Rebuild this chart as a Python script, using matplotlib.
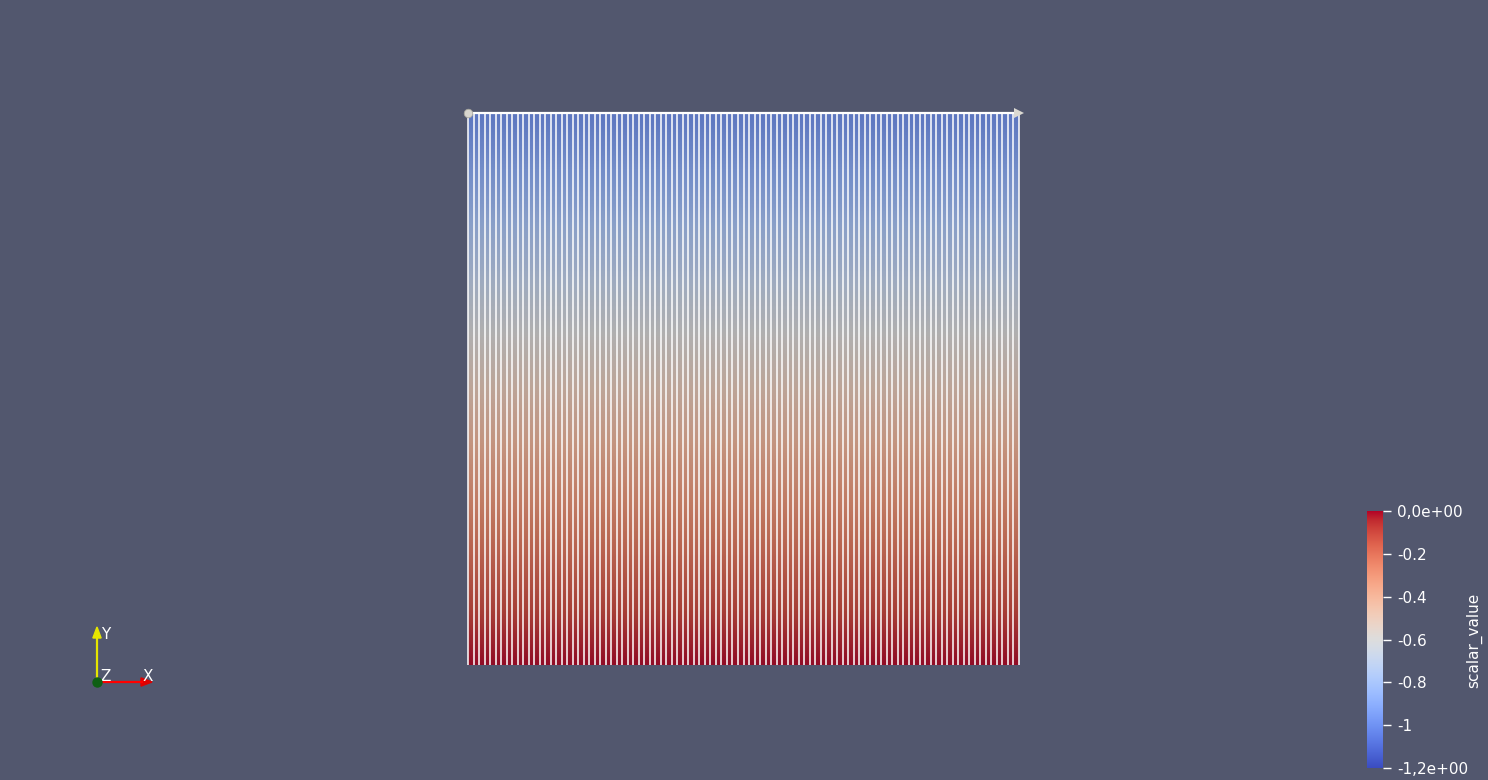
import numpy as np
import matplotlib
matplotlib.use("Agg")
import matplotlib.pyplot as plt
from matplotlib.colors import ListedColormap, Normalize
from matplotlib.colorbar import ColorbarBase

# ---------------- data ----------------
x_nodes = list(range(0, 101))                      # 100 columns -> 101 grid lines
y_nodes = [0.0, 0.1, 0.2, 0.3, 0.4, 0.5, 0.6, 0.7, 0.8, 0.9, 1.0]   # bottom -> top
scalar_rows = [0.0, -0.1, -0.2, -0.3, -0.4, -0.5, -0.6, -0.7, -0.8, -0.9, -1.0]
cbar_ticks = [-1.2, -1.0, -0.8, -0.6, -0.4, -0.2, 0.0]
cbar_ticklabels = ["-1,2e+00", "-1", "-0.8", "-0.6", "-0.4", "-0.2", "0,0e+00"]
cbar_title = "scalar_value"
vmin, vmax = -1.2, 0.0

# ---------------- style ----------------
W, H = 1488, 780
BG = "#52576e"
PX = 0.72  # points per pixel at dpi 100
plt.rcParams["font.family"] = ["DejaVu Sans"]

def fpos(left, top, right, bottom):
    return [left / W, 1 - bottom / H, (right - left) / W, (bottom - top) / H]

fig = plt.figure(figsize=(W / 100, H / 100), dpi=100, facecolor=BG)

base = plt.get_cmap("coolwarm")
shade = base(np.linspace(0, 1, 256))
shade[:, :3] = np.clip(shade[:, :3] * 0.76 + 0.03, 0, 1)
shaded_cmap = ListedColormap(shade)
norm = Normalize(vmin=vmin, vmax=vmax)

# ---------------- grid ----------------
ax = fig.add_axes(fpos(468, 113, 1019, 665))
ax.set_facecolor(BG)
X, Y = np.meshgrid(np.array(x_nodes, float), np.array(y_nodes, float))
Z = np.repeat(np.array(scalar_rows, float)[:, None], len(x_nodes), axis=1)
ax.pcolormesh(X, Y, Z, cmap=shaded_cmap, norm=norm, shading="gouraud")
ax.vlines(x_nodes, 0, 1, colors="white", linewidth=1.1, clip_on=False)
ax.set_xlim(0, 100)
ax.set_ylim(0, 1)
ax.axis("off")

# line widget on top
ax.plot([0, 100], [1, 1], color="white", linewidth=1.6, clip_on=False, zorder=5)
ax.scatter([0], [1], s=(8.5 * PX) ** 2, color="#d8d6cf", edgecolors="#a9a79f",
           linewidths=0.6, clip_on=False, zorder=6)
ax.scatter([100], [1], marker=">", s=(10 * PX) ** 2, color="#dcdad2",
           edgecolors="none", clip_on=False, zorder=6)

# ---------------- colorbar ----------------
cax = fig.add_axes(fpos(1367, 511, 1383, 768))
cb = ColorbarBase(cax, cmap=base, norm=norm, orientation="vertical", ticks=cbar_ticks)
cb.outline.set_visible(False)
cb.set_ticklabels(cbar_ticklabels)
cax.tick_params(axis="y", direction="out", length=8 * PX, width=1.4 * PX,
                color="white", labelcolor="white", labelsize=11, pad=6 * PX)
fig.text(1474 / W, 1 - 640 / H, cbar_title, rotation=90, color="white",
         fontsize=11, ha="center", va="center")

# ---------------- orientation glyph ----------------
gax = fig.add_axes(fpos(97, 627, 152, 682))
gax.set_xlim(0, 1)
gax.set_ylim(0, 1)
gax.axis("off")
gax.plot([0, 0.82], [0, 0], color="#ff0000", linewidth=1.6, clip_on=False)
gax.plot([0, 0], [0, 0.82], color="#e6e600", linewidth=1.6, clip_on=False)
gax.fill([0.8, 1.0, 0.8], [-0.075, 0, 0.075], color="#e00000", clip_on=False)
gax.fill([-0.075, 0, 0.075], [0.8, 1.0, 0.8], color="#e6e600", clip_on=False)
gax.scatter([0], [0], s=(9 * PX) ** 2, color="#0f5f14", zorder=5, clip_on=False)
gax.text(0.07, 1.0, "Y", color="white", fontsize=11, ha="left", va="top")
gax.text(0.07, 0.24, "Z", color="white", fontsize=11, ha="left", va="top")
gax.text(0.83, 0.24, "X", color="white", fontsize=11, ha="left", va="top")

fig.savefig("out.png", dpi=100, facecolor=BG)
